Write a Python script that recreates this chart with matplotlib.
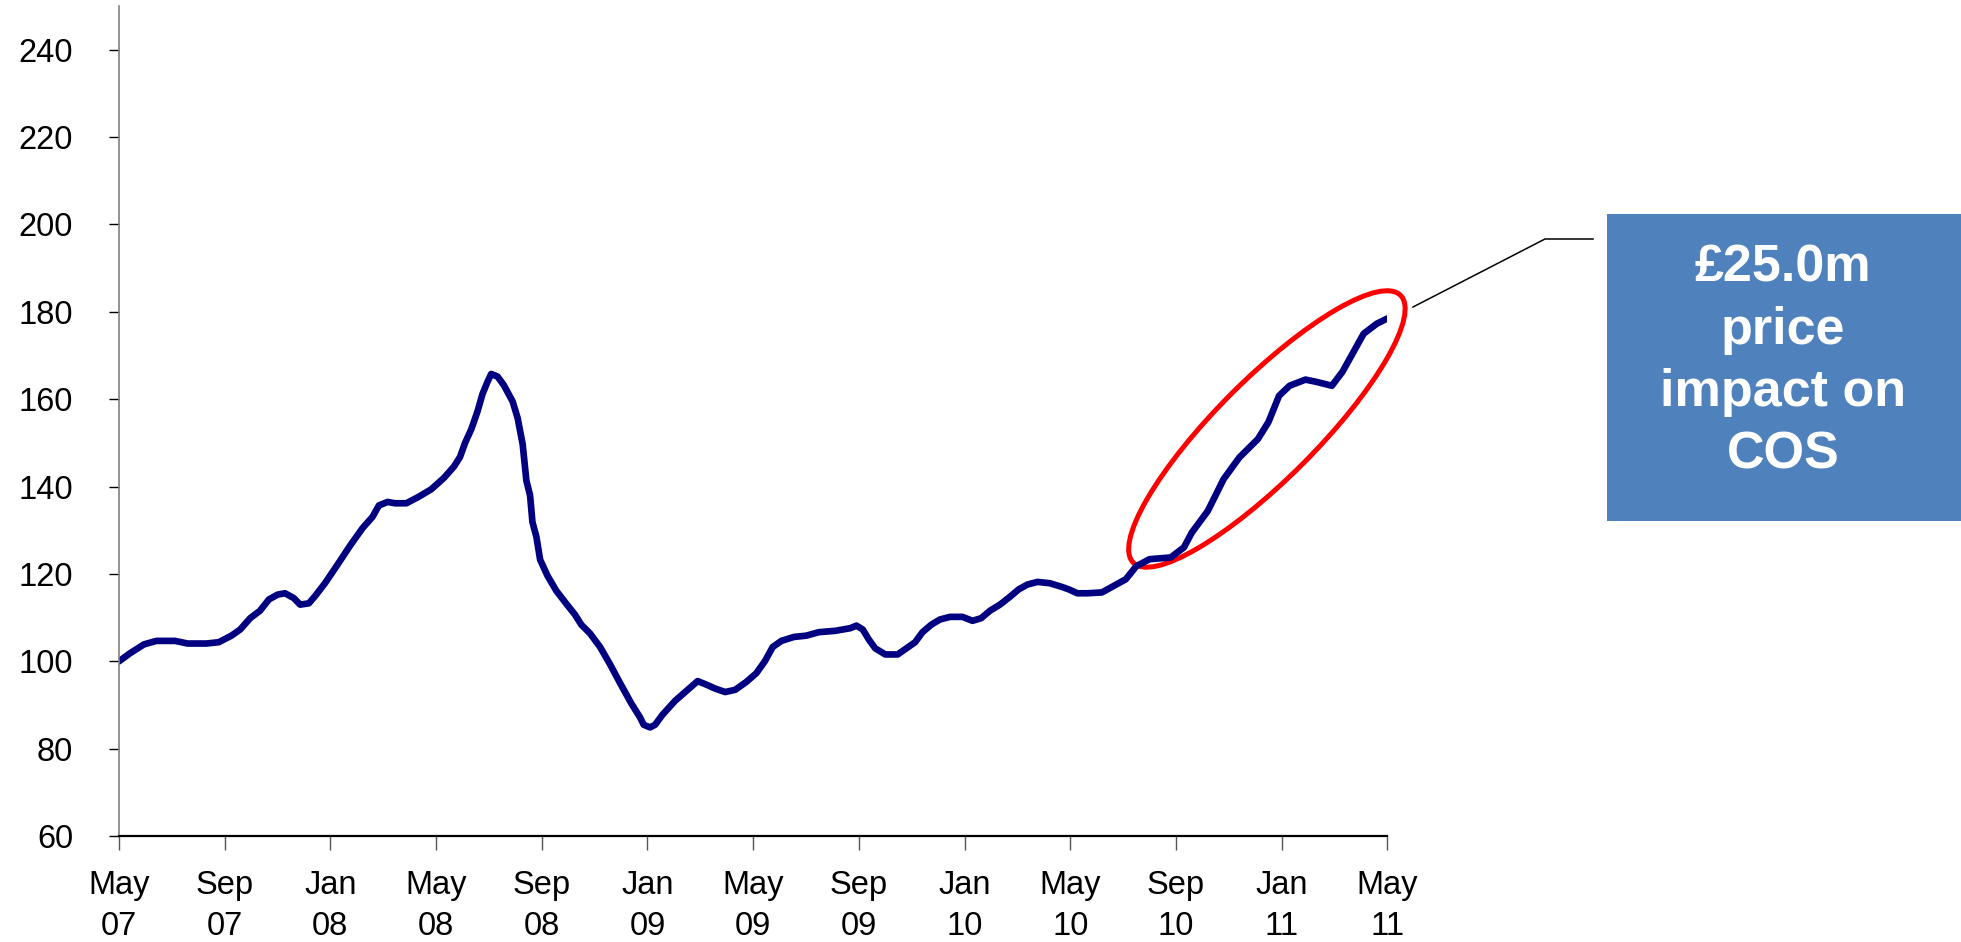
import numpy as np
import matplotlib
matplotlib.use("Agg")
import matplotlib.pyplot as plt
import matplotlib.transforms as transforms
from matplotlib.patches import Ellipse, Rectangle
from matplotlib.lines import Line2D

# Index (May 07 = 100), x in months since May 2007
months = [0, 0.43, 0.95, 1.42, 2.13, 2.60, 3.31, 3.78, 4.26, 4.59, 4.97, 5.34, 5.68, 6.01,
          6.29, 6.62, 6.86, 7.19, 7.43, 7.80, 8.28, 8.75, 9.22, 9.60, 9.84, 10.17, 10.45,
          10.88, 11.35, 11.82, 12.30, 12.68, 12.91, 13.10, 13.34, 13.57, 13.76, 13.95,
          14.09, 14.33, 14.57, 14.90, 15.09, 15.28, 15.42, 15.56, 15.65, 15.80, 15.94,
          16.22, 16.55, 16.88, 17.26, 17.50, 17.83, 18.21, 18.59, 18.97, 19.39, 19.72,
          19.86, 20.10, 20.29, 20.57, 21.05, 21.52, 21.90, 22.23, 22.56, 22.94, 23.32,
          23.74, 24.12, 24.45, 24.74, 25.07, 25.54, 26.01, 26.49, 27.10, 27.67, 27.91,
          28.15, 28.38, 28.62, 29.00, 29.47, 29.80, 30.13, 30.41, 30.74, 31.07, 31.45,
          31.92, 32.30, 32.63, 32.96, 33.34, 33.72, 34.05, 34.38, 34.76, 35.23, 35.71,
          35.94, 36.27, 36.65, 37.2, 38.1, 38.5, 39.0, 39.8, 40.3, 40.6, 41.2, 41.8,
          42.4, 43.1, 43.5, 43.9, 44.3, 44.9, 45.3, 45.9, 46.3, 47.1, 47.6, 48.0]
index_values = [100, 101.9, 103.9, 104.7, 104.7, 104.1, 104.1, 104.4, 105.9, 107.3, 109.9,
                111.6, 114.2, 115.3, 115.6, 114.5, 113.0, 113.3, 115.0, 117.9, 122.2, 126.5,
                130.5, 133.1, 135.7, 136.5, 136.2, 136.2, 137.7, 139.4, 142.0, 144.6, 146.8,
                150.0, 153.2, 157.2, 161.2, 164.0, 165.8, 165.2, 163.2, 159.5, 155.7, 149.7,
                141.4, 138.0, 131.9, 128.5, 123.3, 119.6, 116.2, 113.6, 110.7, 108.4, 106.4,
                103.3, 99.3, 95.0, 90.4, 87.2, 85.5, 84.9, 85.5, 87.8, 91.0, 93.5, 95.5,
                94.7, 93.8, 93.0, 93.5, 95.3, 97.3, 100.1, 103.3, 104.7, 105.6, 105.9, 106.7,
                107.0, 107.6, 108.2, 107.3, 105.0, 103.0, 101.6, 101.6, 103.0, 104.4, 106.7,
                108.4, 109.6, 110.2, 110.2, 109.3, 109.9, 111.6, 113.0, 114.8, 116.5, 117.6,
                118.2, 117.9, 117.0, 116.5, 115.6, 115.6, 115.8, 118.8, 121.8, 123.4, 123.8,
                126.1, 129.5, 134.4, 141.7, 146.7, 150.9, 154.8, 160.8, 163.1, 164.5, 164.0,
                163.1, 166.3, 175.0, 177.3, 178.5]

tick_months = [0, 4, 8, 12, 16, 20, 24, 28, 32, 36, 40, 44, 48]
tick_labels = ["May\n07", "Sep\n07", "Jan\n08", "May\n08", "Sep\n08", "Jan\n09", "May\n09",
               "Sep\n09", "Jan\n10", "May\n10", "Sep\n10", "Jan\n11", "May\n11"]
y_ticks = [60, 80, 100, 120, 140, 160, 180, 200, 220, 240]

callout_text = "£25.0m\nprice\nimpact on\nCOS"

plt.rcParams["font.family"] = ["Liberation Sans", "DejaVu Sans"]

fig = plt.figure(figsize=(19.61, 9.42), dpi=100)
ax = fig.add_axes([0.0606, 0.1123, 0.6469, 0.8813])

ax.plot(months, index_values, color="#000080", lw=4.8, solid_joinstyle="round",
        solid_capstyle="round")

ax.set_xlim(0, 48)
ax.set_ylim(60, 250)
ax.set_xticks(tick_months)
ax.set_xticklabels(tick_labels, fontsize=23.5, linespacing=1.45)
ax.set_yticks(y_ticks)
ax.set_yticklabels([str(v) for v in y_ticks], fontsize=23.5)

ax.spines["top"].set_visible(False)
ax.spines["right"].set_visible(False)
ax.spines["left"].set_color("#808080")
ax.spines["left"].set_linewidth(1.2)
ax.spines["bottom"].set_color("black")
ax.spines["bottom"].set_linewidth(1.6)
ax.tick_params(axis="y", direction="out", length=7, width=1, color="black", pad=26)
ax.tick_params(axis="x", direction="out", length=10, width=1, color="#555555", pad=14)

# red ring around the last rise, sized in inches and pinned at a data point
ring_trans = fig.dpi_scale_trans + transforms.ScaledTranslation(43.44, 153.2, ax.transData)
ring = Ellipse((0, 0), width=3.78, height=1.0, angle=45.0, fill=False,
               edgecolor="#ff0000", lw=3.6, transform=ring_trans, clip_on=False)
ax.add_patch(ring)

# callout box on the right
fig.patches.append(Rectangle((0.8195, 0.4469), 0.1805, 0.3259, transform=fig.transFigure,
                             facecolor="#4f81bd", edgecolor="none"))
fig.text(0.9093, 0.6163, callout_text, ha="center", va="center", color="white",
         fontsize=37.5, fontweight="bold", linespacing=1.35)

# leader line from the ring to the box
lx = np.array([1413, 1545, 1593]) / 1961
ly = 1 - np.array([307, 239, 239]) / 942
fig.add_artist(Line2D(lx, ly, transform=fig.transFigure, color="black", lw=1.1))

fig.savefig("out.png", dpi=100, facecolor="white")
